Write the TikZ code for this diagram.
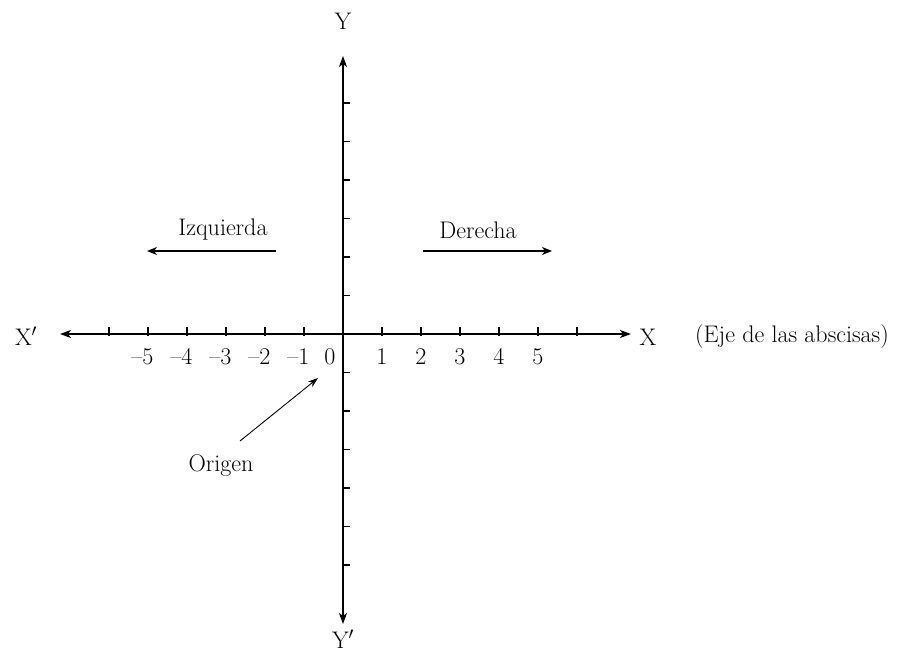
\documentclass[tikz,border=0pt]{standalone}
\usetikzlibrary{arrows.meta}
\begin{document}
\begin{tikzpicture}[x=1pt,y=-1pt,
  axis/.style={line width=1.5pt,{Stealth[length=11pt,width=8pt,inset=3pt]}-{Stealth[length=11pt,width=8pt,inset=3pt]}},
  dirarrow/.style={line width=1.4pt,-{Stealth[length=10pt,width=8pt,inset=3pt]}},
  ptr/.style={line width=0.9pt,-{Stealth[length=10pt,width=7pt,inset=3pt]}},
  tickmark/.style={line width=1.1pt},
  lbl/.style={font=\fontsize{24}{28}\selectfont, inner sep=0pt},
  num/.style={font=\fontsize{24}{28}\selectfont, inner sep=0pt, anchor=base}]
\useasboundingbox (0,0) rectangle (897,652);
\coordinate (O) at (343,334);
\coordinate (xl) at (60,334);
\coordinate (xr) at (631,334);
\coordinate (yt) at (343,56);
\coordinate (yb) at (343,624);
\draw[axis] (xl) -- (xr);
\draw[axis] (yt) -- (yb);
% ticks on x axis
\foreach \k in {1,...,6} {
  \draw[tickmark] (343+39*\k,327) -- (343+39*\k,336);
  \draw[tickmark] (343-39*\k,327) -- (343-39*\k,336);
}
% ticks on y axis
\foreach \k in {1,...,6} {
  \draw[tickmark] (343,334-38.5*\k) -- (350,334-38.5*\k);
  \draw[tickmark] (343,334+38.5*\k) -- (350,334+38.5*\k);
}
% numbers
\foreach \k in {1,...,5} {
  \node[num] (p\k) at (343+39*\k,364) {\k};
  \node[num] (m\k) at (343-39*\k,364) {\llap{--}\k};
}
\node[num] (zero) at (330,364) {0};
% axis labels
\node[lbl] (Y) at (343,21) {Y};
\node[lbl] (Yp) at (343,639) {Y$'$};
\node[lbl] (Xp) at (26,336) {X$'$};
\node[lbl] (X) at (648,337) {X};
\node[lbl] (eje) at (792,337) {(Eje de las abscisas)};
% directions
\node[lbl] (izq) at (223,230) {Izquierda};
\node[lbl] (der) at (478,230) {Derecha};
\coordinate (izqS) at (276,251);
\coordinate (izqE) at (147,251);
\coordinate (derS) at (423,251);
\coordinate (derE) at (552,251);
\draw[dirarrow] (izqS) -- (izqE);
\draw[dirarrow] (derS) -- (derE);
% origin pointer
\node[lbl] (orig) at (221,466) {Origen};
\coordinate (origS) at (240,441);
\coordinate (origE) at (318,378);
\draw[ptr] (origS) -- (origE);
\end{tikzpicture}
\end{document}
